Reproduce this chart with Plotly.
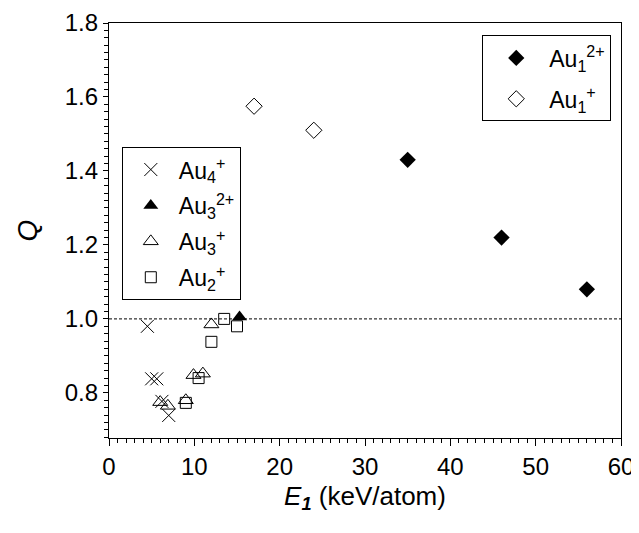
import plotly.graph_objects as go

# ---- data ----
au1_2p_x = [35.0, 46.0, 56.0]
au1_2p_y = [1.43, 1.22, 1.08]

au1_p_x = [17.0, 24.0]
au1_p_y = [1.575, 1.51]

au4_p_x = [4.5, 5.0, 5.6, 6.2, 7.0]
au4_p_y = [0.98, 0.838, 0.838, 0.777, 0.739]

au3_2p_x = [15.3]
au3_2p_y = [1.005]

au3_p_x = [6.0, 6.9, 9.0, 9.9, 11.0, 12.0]
au3_p_y = [0.775, 0.765, 0.78, 0.848, 0.852, 0.985]

au2_p_x = [9.0, 10.5, 12.0, 13.5, 15.0]
au2_p_y = [0.773, 0.84, 0.938, 1.0, 0.98]

x_range = [0, 60]
y_range = [0.678, 1.8]
ref_level = 1.0

FONT = "Liberation Sans, Arial, Helvetica, sans-serif"

fig = go.Figure()

fig.add_trace(go.Scatter(
    x=au1_2p_x, y=au1_2p_y, mode="markers", name="Au<sub>1</sub><sup>2+</sup>",
    marker=dict(symbol="diamond", size=12.5, color="black", line=dict(width=0)),
    legend="legend", legendgroup="g1"))
fig.add_trace(go.Scatter(
    x=au1_p_x, y=au1_p_y, mode="markers", name="Au<sub>1</sub><sup>+</sup>",
    marker=dict(symbol="diamond-open", size=12.5, color="black", line=dict(width=1)),
    legend="legend", legendgroup="g2"))

fig.add_trace(go.Scatter(
    x=au4_p_x, y=au4_p_y, mode="markers", name="Au<sub>4</sub><sup>+</sup>",
    marker=dict(symbol="x-thin-open", size=13, color="black", line=dict(width=1, color="black")),
    legend="legend2", legendgroup="g3"))
fig.add_trace(go.Scatter(
    x=au3_2p_x, y=au3_2p_y, mode="markers", name="Au<sub>3</sub><sup>2+</sup>",
    marker=dict(symbol="triangle-up", size=13, color="black", line=dict(width=0)),
    legend="legend2", legendgroup="g4"))
fig.add_trace(go.Scatter(
    x=au3_p_x, y=au3_p_y, mode="markers", name="Au<sub>3</sub><sup>+</sup>",
    marker=dict(symbol="triangle-up-open", size=13, color="black", line=dict(width=1)),
    legend="legend2", legendgroup="g5"))
fig.add_trace(go.Scatter(
    x=au2_p_x, y=au2_p_y, mode="markers", name="Au<sub>2</sub><sup>+</sup>",
    marker=dict(symbol="square-open", size=11, color="black", line=dict(width=1)),
    legend="legend2", legendgroup="g6"))

fig.add_shape(type="line", xref="paper", x0=0, x1=1, yref="y", y0=ref_level, y1=ref_level,
              line=dict(color="black", width=1, dash="3px,2px"), layer="below")

axis_common = dict(
    showgrid=False, zeroline=False, showline=True, linecolor="black", linewidth=1.2,
    mirror=True, ticks="outside", tickcolor="black", tickwidth=1.2, automargin=False,
    tickfont=dict(family=FONT, size=24, color="black"),
)

fig.update_xaxes(
    range=x_range, dtick=10, tick0=0, ticklen=7,
    minor=dict(dtick=1, ticklen=4, ticks="outside", tickcolor="black", tickwidth=1),
    title=dict(text="<i>E</i><sub><i><b>1</b></i></sub> (keV/atom)",
               font=dict(family=FONT, size=26, color="black"), standoff=7),
    **axis_common)
fig.update_yaxes(
    range=y_range, dtick=0.2, tick0=0.8, tickformat=".1f", ticklen=5,
    minor=dict(dtick=0.02, ticklen=4, ticks="outside", tickcolor="black", tickwidth=1),
    title=dict(text="<i>Q</i>", font=dict(family=FONT, size=28, color="black"), standoff=18),
    **axis_common)

legend_common = dict(
    bgcolor="white", bordercolor="black", borderwidth=1,
    font=dict(family=FONT, size=23, color="black"),
    xanchor="left", yanchor="top",
)

fig.update_layout(
    width=631, height=525,
    margin=dict(l=101, r=18, t=15, b=95),
    plot_bgcolor="white", paper_bgcolor="white",
    showlegend=True,
    legend=dict(x=0.729, y=0.970, itemwidth=56, tracegroupgap=8, **legend_common),
    legend2=dict(x=0.025, y=0.701, itemwidth=46, tracegroupgap=3, **legend_common),
)

fig.write_html("out.html")
